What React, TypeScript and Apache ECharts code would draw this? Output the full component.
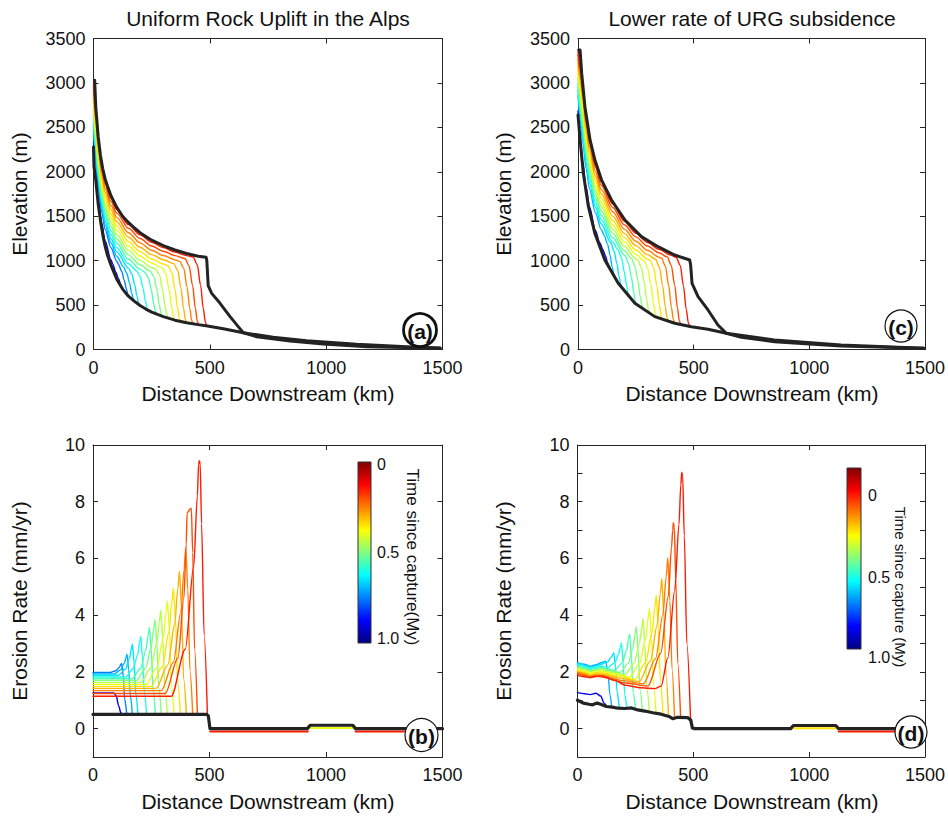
import React, { useEffect, useRef } from "react";
import * as echarts from "echarts";

const FONT = '"Liberation Sans", Arial, Helvetica, sans-serif';

// ---------- axis ticks ----------
const X_TICKS = [0, 500, 1000, 1500];
const ELEV_TICKS = [0, 500, 1000, 1500, 2000, 2500, 3000, 3500];
const RATE_LABELS = [0, 2, 4, 6, 8, 10];
const RATE_TICKS_B = [0, 2, 4, 6, 8, 10];
const RATE_TICKS_D = [0, 1, 2, 3, 4, 5, 6, 7, 8, 9, 10];

// ---------- time since capture (My) of each coloured profile ----------
const TIMES_AB = [0.9, 0.75, 0.7, 0.65, 0.6, 0.55, 0.5, 0.45, 0.4, 0.35, 0.3, 0.25, 0.2, 0.15];
const TIMES_CD = [0.9, 0.7, 0.65, 0.6, 0.55, 0.5, 0.45, 0.4, 0.35, 0.3, 0.25, 0.2, 0.15];

// ---------- panel (a): elevation profiles ----------
const A_UPPER = [[5,3030],[10,2720],[20,2400],[30,2180],[40,2030],[50,1920],[60,1840],[75,1730],[100,1600],[125,1500],[150,1430],[175,1370],[200,1315],[250,1230],[300,1170],[350,1120],[400,1080],[450,1050],[484,1037],[487,1000],[493,720],[508,632],[544,520],[587,370],[622,257],[644,189],[701,144],[845,96],[988,62],[1175,32],[1490,13]];
const A_LOWER = [[0,2280],[2,2057],[10,1900],[20,1640],[30,1450],[40,1290],[50,1160],[60,1060],[75,950],[100,790],[125,680],[150,600],[175,545],[200,495],[225,455],[250,420],[275,395],[300,370],[350,330],[400,302],[450,280],[490,265],[558,234],[644,189],[772,137],[916,99],[1131,58],[1346,32],[1490,17]];
const A_CURVES = [
  [[0,2340],[10,1966],[20,1701],[35,1424],[50,1221],[75,1012],[83,958],[96,870],[108,793],[117,731],[123,696],[128,680]],
  [[0,2468],[10,2105],[20,1830],[35,1549],[50,1350],[75,1145],[100,993],[107,959],[121,882],[132,779],[142,675],[148,617],[153,594]],
  [[0,2520],[10,2162],[20,1883],[35,1600],[50,1403],[75,1200],[100,1049],[129,930],[143,858],[155,749],[164,636],[171,569],[176,543]],
  [[0,2565],[10,2212],[20,1929],[35,1644],[50,1449],[75,1246],[100,1098],[151,913],[165,850],[177,730],[187,598],[194,521],[199,497]],
  [[0,2610],[10,2261],[20,1974],[35,1688],[50,1494],[75,1293],[100,1146],[150,965],[186,885],[201,818],[213,690],[223,548],[230,466],[235,441]],
  [[0,2655],[10,2310],[20,2020],[35,1733],[50,1540],[75,1340],[100,1195],[150,1015],[200,905],[221,869],[236,805],[249,664],[259,511],[267,422],[272,397]],
  [[0,2700],[10,2359],[20,2066],[35,1777],[50,1586],[75,1387],[100,1244],[150,1065],[200,954],[244,883],[260,817],[273,668],[283,500],[291,402],[296,374]],
  [[0,2745],[10,2408],[20,2111],[35,1821],[50,1631],[75,1434],[100,1292],[150,1115],[200,1003],[250,922],[268,902],[284,834],[297,670],[308,487],[316,381],[321,352]],
  [[0,2790],[10,2458],[20,2157],[35,1865],[50,1677],[75,1480],[100,1341],[150,1164],[200,1053],[250,971],[295,919],[311,851],[325,675],[336,476],[344,361],[349,331]],
  [[0,2835],[10,2507],[20,2202],[35,1909],[50,1722],[75,1527],[100,1389],[150,1214],[200,1102],[250,1019],[300,962],[320,943],[336,869],[350,681],[361,469],[369,347],[375,315]],
  [[0,2880],[10,2556],[20,2248],[35,1953],[50,1768],[75,1574],[100,1438],[150,1264],[200,1151],[250,1068],[300,1010],[345,966],[362,890],[376,691],[387,465],[395,335],[401,302]],
  [[0,2925],[10,2605],[20,2294],[35,1997],[50,1814],[75,1621],[100,1487],[150,1314],[200,1200],[250,1117],[300,1058],[350,1009],[371,992],[388,913],[402,702],[414,462],[422,325],[428,289]],
  [[0,2970],[10,2654],[20,2339],[35,2041],[50,1859],[75,1668],[100,1535],[150,1364],[200,1249],[250,1165],[300,1106],[350,1057],[394,1022],[411,939],[426,717],[438,463],[446,318],[452,280]],
  [[0,3007],[10,2695],[20,2377],[35,2078],[50,1897],[75,1707],[100,1576],[150,1405],[200,1290],[250,1206],[300,1146],[350,1096],[400,1057],[428,1041],[446,955],[460,725],[472,458],[481,306],[487,266],[520,252],[600,212],[644,189]],
];

// ---------- panel (c): elevation profiles ----------
const C_UPPER = [[3,3370],[9,3370],[16,3107],[30,2733],[52,2358],[73,2133],[102,1907],[145,1682],[203,1457],[274,1270],[346,1157],[418,1063],[483,1007],[487,950],[493,745],[519,595],[562,445],[605,276],[641,182],[706,137],[849,88],[1137,39],[1496,13]];
const C_LOWER = [[0,2640],[9,2358],[23,1982],[45,1607],[73,1307],[116,1007],[174,745],[246,520],[332,370],[418,295],[490,257],[562,227],[641,182],[849,107],[1137,51],[1496,13]];
const C_CURVES = [
  [[0,2684],[10,2373],[20,2118],[35,1829],[50,1603],[75,1342],[94,1203],[108,1123],[119,1052],[128,978],[135,933],[140,905]],
  [[0,2859],[10,2584],[20,2343],[35,2038],[50,1805],[75,1540],[100,1352],[114,1280],[128,1184],[139,1056],[148,924],[155,847],[160,816]],
  [[0,2917],[10,2654],[20,2418],[35,2108],[50,1872],[75,1606],[100,1416],[142,1201],[156,1107],[168,969],[177,828],[185,736],[190,702]],
  [[0,2961],[10,2707],[20,2475],[35,2160],[50,1922],[75,1656],[100,1464],[150,1209],[173,1121],[188,1029],[200,876],[210,723],[217,631],[222,598]],
  [[0,3005],[10,2760],[20,2531],[35,2213],[50,1973],[75,1705],[100,1513],[150,1258],[203,1058],[218,975],[231,814],[241,642],[248,540],[253,508]],
  [[0,3049],[10,2813],[20,2587],[35,2265],[50,2023],[75,1754],[100,1561],[150,1307],[200,1114],[231,1026],[246,938],[259,773],[269,594],[277,489],[282,458]],
  [[0,3093],[10,2866],[20,2644],[35,2317],[50,2073],[75,1804],[100,1609],[150,1355],[200,1162],[250,1021],[258,1006],[274,924],[287,749],[297,555],[305,443],[310,412]],
  [[0,3136],[10,2918],[20,2700],[35,2369],[50,2124],[75,1853],[100,1657],[150,1404],[200,1211],[250,1071],[285,1001],[301,916],[315,731],[326,524],[334,404],[339,370]],
  [[0,3180],[10,2971],[20,2756],[35,2422],[50,2174],[75,1903],[100,1706],[150,1452],[200,1259],[250,1120],[300,1020],[311,1003],[327,921],[341,722],[352,500],[360,374],[366,340]],
  [[0,3224],[10,3024],[20,2812],[35,2474],[50,2224],[75,1952],[100,1754],[150,1501],[200,1307],[250,1169],[300,1068],[335,1016],[352,926],[366,719],[377,487],[385,355],[391,319]],
  [[0,3268],[10,3077],[20,2869],[35,2526],[50,2275],[75,2002],[100,1802],[150,1550],[200,1355],[250,1218],[300,1117],[350,1040],[361,1027],[378,938],[392,720],[404,474],[412,336],[418,299]],
  [[0,3312],[10,3130],[20,2925],[35,2578],[50,2325],[75,2051],[100,1851],[150,1598],[200,1404],[250,1267],[300,1165],[350,1088],[386,1042],[403,950],[418,723],[430,468],[438,321],[444,282]],
  [[0,3348],[10,3174],[20,2972],[35,2622],[50,2367],[75,2092],[100,1891],[150,1639],[200,1444],[250,1308],[300,1205],[350,1128],[400,1063],[424,1038],[442,946],[456,715],[468,450],[477,299],[483,260]],
];

// ---------- panel (b): erosion rate ----------
const B_INITIAL = [[0,0.5],[488,0.5],[495,0.45],[502,0.0],[920,0.0],[932,0.12],[1115,0.12],[1127,0.0],[1500,0.0]];
const B_CURVES = [
  [[0,1.26],[90,1.26],[100,1.15],[110,0.8],[120,0.55],[128,0.5]],
  [[0,1.98],[73,1.98],[98,2.04],[113,2.16],[119,2.25],[123,2.3],[130,1.85],[136,1.04],[145,0.5]],
  [[0,1.93],[91,1.93],[118,2.07],[135,2.31],[142,2.52],[146,2.62],[153,2.09],[160,1.18],[169,0.5]],
  [[0,1.88],[109,1.88],[139,2.1],[157,2.49],[165,2.82],[169,2.98],[176,2.36],[183,1.24],[193,0.5]],
  [[0,1.82],[140,1.82],[172,2.11],[192,2.61],[200,3.04],[205,3.25],[212,2.56],[220,1.33],[230,0.5]],
  [[0,1.76],[167,1.76],[204,2.12],[227,2.76],[237,3.3],[242,3.57],[250,2.8],[258,1.35],[268,0.5]],
  [[0,1.7],[186,1.7],[226,2.13],[250,2.88],[260,3.52],[266,3.84],[274,3.01],[282,1.44],[293,0.5]],
  [[0,1.63],[206,1.63],[248,2.14],[274,3.03],[285,3.79],[291,4.17],[299,3.25],[308,1.42],[319,0.5]],
  [[0,1.56],[229,1.56],[274,2.15],[301,3.18],[313,4.06],[319,4.5],[328,3.5],[336,1.55],[348,0.5]],
  [[0,1.49],[250,1.49],[297,2.18],[326,3.39],[338,4.43],[345,4.95],[354,3.84],[363,1.68],[375,0.5]],
  [[0,1.42],[271,1.42],[321,2.24],[351,3.69],[364,4.92],[371,5.54],[380,4.28],[389,1.75],[401,0.5]],
  [[0,1.34],[293,1.34],[345,2.34],[377,4.1],[391,5.61],[398,6.36],[407,4.89],[416,2.06],[428,0.5]],
  [[0,1.24],[310,1.24],[365,2.5],[390,4.6],[400,6.5],[404,7.6],[418,7.75],[422,7.77],[428,6.2],[436,2.8],[448,0.5]],
  [[0,1.14],[336,1.14],[396,2.8],[432,5.71],[448,8.2],[453,9.3],[456,9.45],[460,9.35],[466,7.22],[477,3.29],[491,0.5]],
];
const B_TAIL_TIMES = [0.15, 0.15, 0.4];
const B_TAILS = [
  [[503,-0.1],[922,-0.1]],
  [[1127,-0.1],[1450,-0.1]],
  [[928,0.02],[1118,0.02]],
];

// ---------- panel (d): erosion rate ----------
const D_INITIAL = [[0,1.0],[25,0.9],[50,0.86],[65,0.84],[85,0.9],[100,0.86],[125,0.78],[150,0.76],[175,0.72],[204,0.71],[233,0.73],[260,0.66],[290,0.62],[325,0.56],[361,0.51],[395,0.43],[411,0.35],[432,0.4],[475,0.39],[489,0.3],[496,0.02],[505,0.0],[920,0.0],[932,0.11],[1115,0.11],[1127,0.0],[1500,0.0]];
const D_CURVES = [
  [[0,1.27],[30,1.23],[55,1.2],[80,1.25],[100,1.15],[115,0.9],[125,0.8]],
  [[0,2.33],[30,2.27],[55,2.2],[80,2.25],[105,2.33],[122,2.38],[132,1.9],[140,1.2],[148,0.77]],
  [[0,2.29],[30,2.23],[55,2.16],[80,2.21],[102,2.27],[130,2.35],[146,2.52],[153,2.62],[157,2.67],[164,2.15],[171,1.3],[180,0.74]],
  [[0,2.25],[30,2.19],[55,2.12],[80,2.17],[105,2.2],[130,2.15],[160,2.32],[178,2.63],[186,2.89],[190,3.02],[197,2.3],[204,1.2],[213,0.71]],
  [[0,2.21],[30,2.15],[55,2.08],[80,2.13],[105,2.15],[130,2.1],[160,2.05],[192,2.31],[212,2.76],[220,3.14],[225,3.33],[233,2.5],[240,1.3],[250,0.69]],
  [[0,2.17],[30,2.11],[55,2.04],[80,2.09],[105,2.11],[140,2.04],[184,1.98],[219,2.3],[240,2.87],[249,3.35],[254,3.59],[262,2.7],[270,1.35],[280,0.64]],
  [[0,2.13],[30,2.07],[55,2.0],[80,2.05],[105,2.07],[150,1.98],[205,1.9],[244,2.3],[267,2.99],[278,3.58],[283,3.88],[291,2.95],[299,1.45],[310,0.59]],
  [[0,2.09],[30,2.03],[55,1.96],[80,2.01],[105,2.02],[160,1.92],[226,1.82],[268,2.3],[294,3.15],[305,3.87],[311,4.23],[319,3.2],[328,1.55],[339,0.55]],
  [[0,2.05],[30,1.99],[55,1.92],[80,1.97],[105,1.97],[170,1.85],[248,1.74],[294,2.33],[322,3.37],[334,4.26],[340,4.7],[349,3.5],[358,1.7],[369,0.5]],
  [[0,2.01],[30,1.95],[55,1.88],[80,1.93],[105,1.92],[180,1.78],[266,1.66],[315,2.39],[344,3.66],[357,4.75],[364,5.29],[373,3.95],[382,1.9],[393,0.44]],
  [[0,1.97],[30,1.91],[55,1.84],[80,1.89],[105,1.87],[190,1.7],[285,1.58],[337,2.47],[369,4.03],[383,5.36],[390,6.03],[399,4.5],[408,2.1],[419,0.37]],
  [[0,1.93],[30,1.87],[55,1.8],[80,1.85],[105,1.82],[200,1.62],[304,1.5],[359,2.65],[392,4.67],[406,6.4],[411,7.0],[414,7.26],[418,7.1],[424,5.3],[433,2.3],[445,0.4]],
  [[0,1.88],[30,1.83],[50,1.8],[80,1.84],[105,1.86],[160,1.71],[205,1.53],[275,1.44],[333,1.41],[361,1.5],[390,2.5],[420,4.9],[438,7.2],[446,8.6],[450,9.04],[454,8.9],[461,6.8],[472,3.0],[488,0.32]],
];
const D_TAIL_TIMES = [0.15, 0.35];
const D_TAILS = [
  [[1127,-0.1],[1400,-0.1]],
  [[928,0.01],[1118,0.01]],
];

// ---------- colour bar ----------
const CBAR_LABELS = ["0", "0.5", "1.0"];

function jet(t: number): string {
  const f = 1 - t;
  const c = (v: number) => Math.round(255 * Math.max(0, Math.min(1, v)));
  return `rgb(${c(1.5 - Math.abs(4 * f - 3))},${c(1.5 - Math.abs(4 * f - 2))},${c(1.5 - Math.abs(4 * f - 1))})`;
}

const GRIDS = [
  { left: 93.5, top: 38.5, width: 349, height: 311 }, // a
  { left: 578, top: 38.5, width: 348, height: 311 }, // c
  { left: 93, top: 445, width: 349.5, height: 312 }, // b
  { left: 577.5, top: 445, width: 349.5, height: 312 }, // d
];

const AX = { color: "#262626", width: 1 };
const plain = (v: number) => String(v);

function xAxes(gi: number) {
  const base: any = {
    gridIndex: gi, type: "value", min: X_TICKS[0], max: X_TICKS[X_TICKS.length - 1], interval: 500,
    splitLine: { show: false },
    axisLine: { show: true, onZero: false, lineStyle: AX },
    axisTick: { show: true, inside: true, length: 5, lineStyle: AX },
  };
  return [
    { ...base, position: "bottom", axisLabel: { fontSize: 18, color: "#111", fontFamily: FONT, margin: 9, formatter: plain } },
    { ...base, position: "top", axisLabel: { show: false } },
  ];
}

function yAxes(gi: number, min: number, max: number, interval: number, labels?: number[], ticks?: number[]) {
  const tick: any = { show: true, inside: true, length: 5, lineStyle: AX };
  if (ticks) tick.customValues = ticks;
  const base: any = {
    gridIndex: gi, type: "value", min, max, interval,
    splitLine: { show: false },
    axisLine: { show: true, onZero: false, lineStyle: AX },
    axisTick: tick,
  };
  const lab: any = { fontSize: 18, color: "#111", fontFamily: FONT, margin: 8, formatter: plain };
  if (labels) lab.customValues = labels;
  return [
    { ...base, position: "left", axisLabel: lab },
    { ...base, position: "right", axisLabel: { show: false } },
  ];
}

function line(gi: number, data: number[][], color: string, width: number, smooth = 0) {
  return {
    type: "line", xAxisIndex: 2 * gi, yAxisIndex: 2 * gi, data,
    showSymbol: false, symbol: "none", silent: true, animation: false,
    smooth, smoothMonotone: smooth ? "x" : undefined,
    lineStyle: { color, width, cap: "round", join: "round" },
  };
}

function txt(x: number, y: number, text: string, size: number, opts: any = {}) {
  return {
    type: "text", x, y, rotation: opts.rotation || 0, z: 200,
    style: {
      text, fill: "#111", font: `${opts.bold ? "bold " : ""}${size}px ${FONT}`,
      textAlign: opts.align || "center", textVerticalAlign: "middle",
      align: opts.align || "center", verticalAlign: "middle",
    },
  };
}

function badge(cx: number, cy: number, r: number, label: string, lw: number) {
  return [
    { type: "circle", z: 150, shape: { cx, cy, r }, style: { fill: "#fff", stroke: "#111", lineWidth: lw } },
    txt(cx, cy + 1, label, 21, { bold: true }),
  ];
}

function colorBar(x: number, y: number, w: number, h: number) {
  const stops = [];
  for (let i = 0; i <= 16; i++) stops.push({ offset: i / 16, color: jet(i / 16) });
  return {
    type: "rect", z: 150, shape: { x, y, width: w, height: h },
    style: { fill: new echarts.graphic.LinearGradient(0, 0, 0, 1, stops), stroke: "#333", lineWidth: 1 },
  };
}

export default function App() {
  const ref = useRef<HTMLDivElement>(null);
  useEffect(() => {
    if (!ref.current) return;
    const chart = echarts.init(ref.current, undefined, { renderer: "svg" });
    const series: any[] = [];
    const dark = "#232323";
    // (a)
    A_CURVES.forEach((c, i) => series.push(line(0, c, jet(TIMES_AB[i]), 1.4, 0.3)));
    series.push(line(0, A_LOWER, dark, 3), line(0, A_UPPER, dark, 3));
    // (c)
    C_CURVES.forEach((c, i) => series.push(line(1, c, jet(TIMES_CD[i]), 1.4, 0.3)));
    series.push(line(1, C_LOWER, dark, 3), line(1, C_UPPER, dark, 3));
    // (b)
    B_TAILS.forEach((c, i) => series.push(line(2, c, jet(B_TAIL_TIMES[i]), 2)));
    B_CURVES.forEach((c, i) => series.push(line(2, c, jet(TIMES_AB[i]), 1.4, 0.3)));
    series.push(line(2, B_INITIAL, dark, 3.2));
    // (d)
    D_TAILS.forEach((c, i) => series.push(line(3, c, jet(D_TAIL_TIMES[i]), 2)));
    D_CURVES.forEach((c, i) => series.push(line(3, c, jet(TIMES_CD[i]), 1.4, 0.3)));
    series.push(line(3, D_INITIAL, dark, 3.2));

    const graphic: any[] = [
      txt(268, 18, "Uniform Rock Uplift in the Alps", 21),
      txt(752, 18, "Lower rate of URG subsidence", 21),
      txt(268, 393, "Distance Downstream (km)", 21),
      txt(752, 393, "Distance Downstream (km)", 21),
      txt(268, 801, "Distance Downstream (km)", 21),
      txt(752, 801, "Distance Downstream (km)", 21),
      txt(19, 194, "Elevation (m)", 21, { rotation: Math.PI / 2 }),
      txt(503, 194, "Elevation (m)", 21, { rotation: Math.PI / 2 }),
      txt(19, 601, "Erosion Rate (mm/yr)", 21, { rotation: Math.PI / 2 }),
      txt(503, 601, "Erosion Rate (mm/yr)", 21, { rotation: Math.PI / 2 }),
      ...badge(420, 330, 16.5, "(a)", 2.8),
      ...badge(901, 326, 16, "(c)", 1.2),
      ...badge(421.5, 735, 16.5, "(b)", 1.2),
      ...badge(911, 732, 16, "(d)", 1.2),
      colorBar(358, 462, 13, 181),
      txt(377, 464, CBAR_LABELS[0], 16, { align: "left" }),
      txt(377, 552, CBAR_LABELS[1], 16, { align: "left" }),
      txt(377, 638, CBAR_LABELS[2], 16, { align: "left" }),
      txt(412, 557, "Time since capture(My)", 17, { rotation: -Math.PI / 2 }),
      colorBar(847, 468, 14, 181),
      txt(868, 495, CBAR_LABELS[0], 16, { align: "left" }),
      txt(868, 577, CBAR_LABELS[1], 16, { align: "left" }),
      txt(868, 657, CBAR_LABELS[2], 16, { align: "left" }),
      txt(900, 587, "Time since capture (My)", 15, { rotation: -Math.PI / 2 }),
    ];

    chart.setOption({
      animation: false,
      backgroundColor: "#fff",
      textStyle: { fontFamily: FONT },
      grid: GRIDS.map((g) => ({ ...g, containLabel: false })),
      xAxis: [...xAxes(0), ...xAxes(1), ...xAxes(2), ...xAxes(3)],
      yAxis: [
        ...yAxes(0, ELEV_TICKS[0], ELEV_TICKS[ELEV_TICKS.length - 1], 500),
        ...yAxes(1, ELEV_TICKS[0], ELEV_TICKS[ELEV_TICKS.length - 1], 500),
        ...yAxes(2, -1, 10, 1, RATE_LABELS, RATE_TICKS_B),
        ...yAxes(3, -1, 10, 1, RATE_LABELS, RATE_TICKS_D),
      ],
      series,
      graphic,
    });
    return () => chart.dispose();
  }, []);
  return (
    <div
      ref={ref}
      style={{ position: "fixed", left: 0, top: 0, width: 948, height: 817, background: "#fff" }}
    />
  );
}
